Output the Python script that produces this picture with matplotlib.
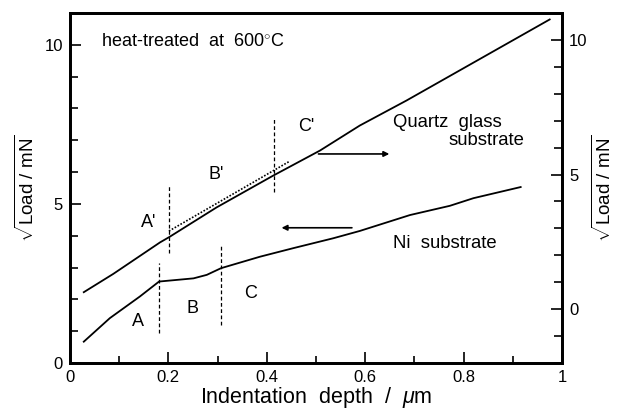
import matplotlib
matplotlib.use("Agg")
import matplotlib.pyplot as plt
from matplotlib.ticker import MultipleLocator

plt.rcParams['font.family'] = ['Liberation Sans', 'DejaVu Sans']
plt.rcParams['mathtext.fontset'] = 'custom'
plt.rcParams['mathtext.rm'] = 'Liberation Sans'
plt.rcParams['mathtext.it'] = 'Liberation Sans:italic'

# Ni substrate (left axis)
ni_depth = [0.028, 0.081, 0.142, 0.181, 0.251, 0.278, 0.307, 0.386, 0.454,
            0.535, 0.589, 0.691, 0.772, 0.82, 0.916]
ni_load = [0.67, 1.41, 2.09, 2.56, 2.66, 2.77, 2.98, 3.34, 3.61,
           3.92, 4.15, 4.65, 4.94, 5.18, 5.53]

# Quartz glass substrate (right axis)
qz_depth = [0.028, 0.088, 0.183, 0.201, 0.298, 0.413, 0.508, 0.589, 0.684, 0.975]
qz_load = [0.63, 1.31, 2.48, 2.67, 3.78, 4.96, 5.89, 6.82, 7.75, 10.76]

# dotted fit line on quartz (right axis)
fit_depth = [0.201, 0.447]
fit_load = [2.90, 5.50]

# region boundaries (left axis units): x, ybottom, ytop
bounds_x = [0.181, 0.307, 0.201, 0.415]
bounds_lo = [0.94, 1.19, 3.45, 5.39]
bounds_hi = [3.13, 3.71, 5.57, 7.69]

region_labels = ['A', 'B', 'C', "A'", "B'", "C'"]
region_x = [0.139, 0.249, 0.366, 0.159, 0.298, 0.481]
region_y = [1.32, 1.72, 2.19, 4.41, 5.91, 7.43]

fig = plt.figure(figsize=(6.17, 4.11), dpi=100)
ax = fig.add_axes([70 / 617, 1 - 363 / 411, 492 / 617, 350 / 411])
ax2 = ax.twinx()

ax.plot(ni_depth, ni_load, color='black', lw=1.3)
ax2.plot(qz_depth, qz_load, color='black', lw=1.3)
ax2.plot(fit_depth, fit_load, color='black', lw=1.2, ls=(0, (1, 1)))

for x, lo, hi in zip(bounds_x, bounds_lo, bounds_hi):
    ax.plot([x, x], [lo, hi], color='black', lw=0.9, ls=(0, (3, 2)))

for t, x, y in zip(region_labels, region_x, region_y):
    ax.text(x, y, t, ha='center', va='center', fontsize=13)

ax.text(0.064, 10.1, 'heat-treated  at  600$^{\\circ}$C', fontsize=13, va='center')
ax.text(0.657, 7.56, 'Quartz  glass', fontsize=13.3, va='center')
ax.text(0.770, 6.99, 'substrate', fontsize=13.3, va='center')
ax.text(0.657, 3.76, 'Ni  substrate', fontsize=13.3, va='center')

ax.annotate('', xy=(0.649, 6.57), xytext=(0.505, 6.57),
            arrowprops=dict(arrowstyle='-|>', color='black', lw=1.2,
                            mutation_scale=8, shrinkA=0, shrinkB=0))
ax.annotate('', xy=(0.430, 4.25), xytext=(0.573, 4.25),
            arrowprops=dict(arrowstyle='-|>', color='black', lw=1.2,
                            mutation_scale=8, shrinkA=0, shrinkB=0))

ax.set_xlim(0, 1)
ax.set_ylim(0, 11)
ax2.set_ylim(-2, 11)

ax.set_xticks([0, 0.2, 0.4, 0.6, 0.8, 1.0])
ax.set_xticklabels(['0', '0.2', '0.4', '0.6', '0.8', '1'])
ax.xaxis.set_minor_locator(MultipleLocator(0.1))
ax.yaxis.set_major_locator(MultipleLocator(5))
ax.yaxis.set_minor_locator(MultipleLocator(1))
ax2.set_yticks([0, 5, 10])
ax2.yaxis.set_minor_locator(MultipleLocator(1))

for a in (ax, ax2):
    a.tick_params(which='both', direction='in', labelsize=12, width=1.2)
    a.tick_params(which='major', length=8)
    a.tick_params(which='minor', length=6)
    for s in a.spines.values():
        s.set_linewidth(2)
ax.tick_params(axis='x', which='minor', length=5)
ax.tick_params(axis='x', which='both', top=False, pad=5)
ax.tick_params(axis='y', right=False, which='both', pad=5)
ax2.tick_params(axis='y', pad=5)

ylab = r'$\sqrt{\mathrm{Load\ /\ mN}}$'
ax.set_ylabel(ylab, fontsize=13.5, labelpad=5)
ax2.set_ylabel(ylab, fontsize=13.5, labelpad=3)
ax.set_xlabel(r'Indentation  depth  /  $\mu$m', fontsize=15.5, labelpad=0)

fig.savefig('out.png', dpi=100)
